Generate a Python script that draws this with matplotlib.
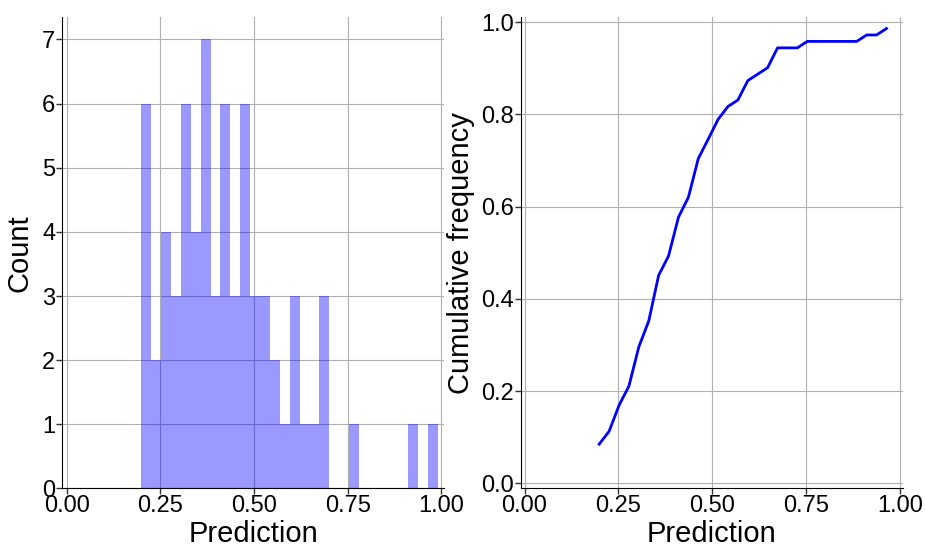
import matplotlib
matplotlib.use("Agg")
import matplotlib.pyplot as plt
import numpy as np

plt.rcParams['font.family'] = ['Liberation Sans', 'DejaVu Sans']

# histogram: 30 equal bins between the smallest and largest prediction
bin_lo = 0.199
bin_hi = 0.991
counts = [6, 2, 4, 3, 6, 4, 7, 3, 6, 3,
          6, 3, 3, 2, 1, 3, 1, 1, 3, 0,
          0, 1, 0, 0, 0, 0, 0, 1, 0, 1]

# cumulative frequency read at each bin's left edge
cum_freq = [0.085, 0.113, 0.169, 0.211, 0.296, 0.352, 0.451, 0.493, 0.577, 0.620,
            0.704, 0.746, 0.789, 0.817, 0.831, 0.873, 0.887, 0.901, 0.944, 0.944,
            0.944, 0.958, 0.958, 0.958, 0.958, 0.958, 0.958, 0.972, 0.972, 0.986]

edges = np.linspace(bin_lo, bin_hi, len(counts) + 1)
xticks = [0.0, 0.25, 0.5, 0.75, 1.0]

fig = plt.figure(figsize=(9.25, 5.47), dpi=100)
ax1 = fig.add_axes([0.0674, 0.107, 0.413, 0.862])
ax2 = fig.add_axes([0.563, 0.107, 0.413, 0.862])

ax1.hist(edges[:-1], bins=edges, weights=counts, color='blue', alpha=0.4)
ax1.set_xlim(-0.012, 1.008)
ax1.set_ylim(0, 7.35)
ax1.set_xlabel('Prediction', fontsize=21, labelpad=2)
ax1.set_ylabel('Count', fontsize=21, labelpad=6)

ax2.plot(edges[:-1], cum_freq, color='blue', lw=2)
ax2.set_xlim(-0.01, 1.008)
ax2.set_ylim(-0.011, 1.011)
ax2.set_xlabel('Prediction', fontsize=21, labelpad=2)
ax2.set_ylabel('Cumulative frequency', fontsize=21, labelpad=4)

for ax in (ax1, ax2):
    ax.set_xticks(xticks)
    ax.grid(True, color='#b0b0b0', lw=0.8)
    ax.set_axisbelow(True)
    ax.spines['top'].set_visible(False)
    ax.spines['right'].set_visible(False)
    ax.tick_params(labelsize=17, length=4, width=1, color='#333333', pad=1)

fig.savefig('out.png', dpi=100)
